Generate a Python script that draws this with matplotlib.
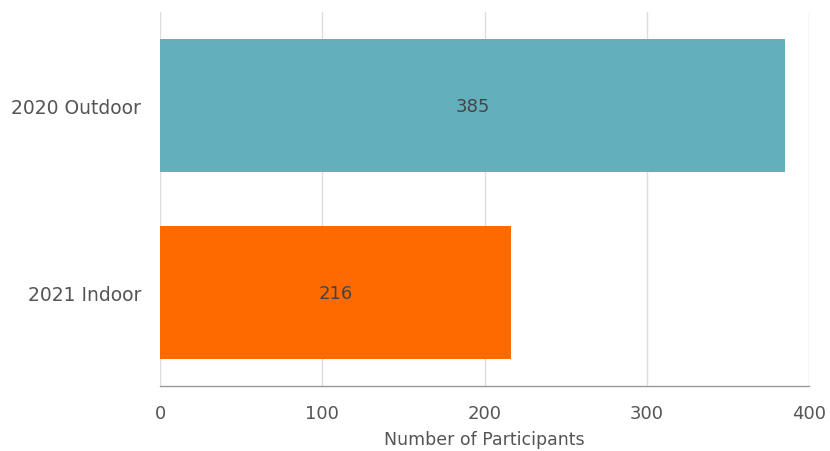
import matplotlib
matplotlib.use("Agg")
import matplotlib.pyplot as plt

categories = ["2020 Outdoor", "2021 Indoor"]
participants = [385, 216]
bar_colors = ["#63B0BC", "#FF6A00"]
x_ticks = [0, 100, 200, 300, 400]

plt.rcParams["font.family"] = ["DejaVu Sans"]

fig = plt.figure(figsize=(8.3, 4.52), dpi=100)
ax = fig.add_axes([0.1928, 0.1438, 0.7825, 0.8274])

y_pos = list(range(len(categories)))
bars = ax.barh(y_pos, participants, height=0.715, color=bar_colors, zorder=2)
for bar, val in zip(bars, participants):
    ax.text(bar.get_width() / 2, bar.get_y() + bar.get_height() / 2, str(val),
            ha="center", va="center", fontsize=13, color="#444444", zorder=3)

ax.set_yticks(y_pos)
ax.set_yticklabels(categories)
ax.set_ylim(len(categories) - 0.5, -0.5)
ax.set_xlim(0, 400)
ax.set_xticks(x_ticks)
ax.tick_params(axis="both", length=0, labelsize=13, labelcolor="#555555")
ax.tick_params(axis="y", pad=13.5, labelsize=13.5)
ax.tick_params(axis="x", pad=13)
ax.grid(axis="x", color="#DDDDDD", linewidth=1, zorder=0)
ax.set_axisbelow(True)
for side in ["top", "right", "left"]:
    ax.spines[side].set_visible(False)
ax.spines["bottom"].set_color("#999999")
ax.spines["bottom"].set_linewidth(1)
ax.set_xlabel("Number of Participants", fontsize=12.5, color="#555555", labelpad=6)

fig.savefig("out.png", dpi=100, facecolor="white")
